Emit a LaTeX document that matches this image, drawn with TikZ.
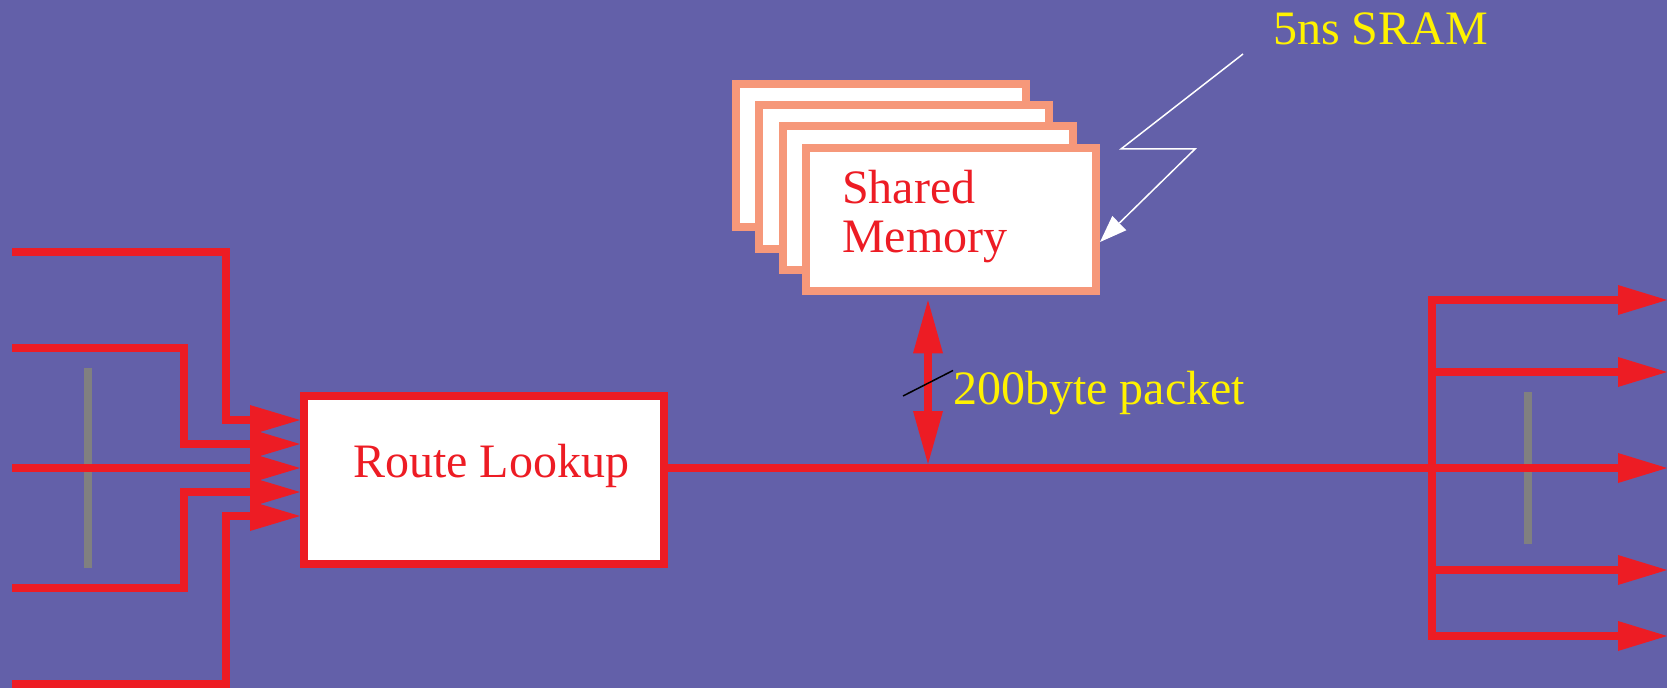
\documentclass[tikz,border=0pt]{standalone}
\usepackage{fontspec}
\setmainfont{Liberation Serif}
\usetikzlibrary{arrows.meta}
\definecolor{bgpurple}{RGB}{99,96,169}
\definecolor{linkred}{RGB}{237,28,36}
\definecolor{memsalmon}{RGB}{246,152,122}
\definecolor{noteyellow}{RGB}{255,242,0}
\definecolor{bargray}{RGB}{128,128,128}
\begin{document}
\begin{tikzpicture}[x=1bp,y=-1bp,
  bigfont/.style={font=\fontsize{48bp}{49bp}\selectfont},
  link/.style={draw=linkred, line width=8bp},
  feed/.style={link, -{Triangle[length=50bp,width=30bp,line width=0pt]}},
  fanout/.style={link, -{Triangle[length=49bp,width=30bp,line width=0pt]}},
  access/.style={link, {Triangle[length=53bp,width=30bp,line width=0pt]}-{Triangle[length=53bp,width=30bp,line width=0pt]}},
  lookupbox/.style={draw=linkred, fill=white, line width=8bp, minimum width=360bp, minimum height=168bp, inner sep=0pt},
  membox/.style={draw=memsalmon, fill=white, line width=8bp, minimum width=290bp, minimum height=143.6bp, inner sep=0pt},
  redtext/.style={bigfont, text=linkred, inner sep=0pt},
  yellowtext/.style={bigfont, text=noteyellow, inner sep=0pt},
  bar/.style={draw=bargray, line width=8bp},
  callout/.style={draw=white, line width=1.5bp, -{Triangle[length=27bp,width=20bp,line width=0pt]}},
  leader/.style={draw=black, line width=1.5bp}
]
% background
\fill[bgpurple] (0,0) rectangle (1667,688);
\useasboundingbox (0,0) rectangle (1667,688);

% port separators
\draw[bar] (88,368) -- (88,568);
\draw[bar] (1528,392) -- (1528,544);

% route lookup engine
\node[lookupbox] (rl) at (484,480) {};
\node[redtext, anchor=base west] (rltext) at (353,477) {Route Lookup};

% shared memory bank stack
\node[membox] (mem1) at (880.8,155.4) {};
\node[membox] (mem2) at (904.2,176.9) {};
\node[membox] (mem3) at (927.7,198.2) {};
\node[membox] (mem4) at (951,219.5) {};
% the base anchor of a two-line node sits on its last line
\node[redtext, anchor=base west, align=left] (memtext) at (842,252) {Shared\\Memory};

% input ports
\coordinate (in1) at (12,252);  \coordinate (k1) at (226,420);
\coordinate (in2) at (12,348);  \coordinate (k2) at (184,444);
\coordinate (in3) at (12,468);
\coordinate (in4) at (12,588);  \coordinate (k4) at (184,492);
\coordinate (in5) at (12,684);  \coordinate (k5) at (226,516);
\draw[feed] (in1) -| (k1) -- (rl.west |- k1);
\draw[feed] (in2) -| (k2) -- (rl.west |- k2);
\draw[feed] (in3) -- (rl.west |- in3);
\draw[feed] (in4) -| (k4) -- (rl.west |- k4);
\draw[feed] (in5) -| (k5) -- (rl.west |- k5);

% output ports
\coordinate (tap) at (928,468);
\coordinate (bus1) at (1432,300);
\coordinate (bus5) at (1432,636);
\coordinate (out1) at (1667,300);
\coordinate (out2) at (1667,372);
\coordinate (out3) at (1667,468);
\coordinate (out4) at (1667,570);
\coordinate (out5) at (1667,636);
\draw[fanout] (rl.east |- tap) -- (out3);
\draw[fanout] (bus5) -- (bus1) -- (out1);
\draw[fanout] (bus1) -- (bus5) -- (out5);
\draw[fanout] (bus1 |- out2) -- (out2);
\draw[fanout] (bus1 |- out4) -- (out4);

% memory access
\draw[access, shorten <=5bp, shorten >=4bp] (mem4.south -| tap) -- (tap);
\node[yellowtext, anchor=base west] (pkt) at (953,404) {200byte packet};
\coordinate (lead0) at (903,396);
\draw[leader] (lead0) -- (pkt.north west);

% memory type callout
\node[yellowtext, anchor=base west] (sram) at (1273,45) {5ns SRAM};
\coordinate (zz0) at (1243,54);
\coordinate (zz1) at (1121,149);
\coordinate (zz2) at (1195,149);
\draw[callout] (zz0) -- (zz1) -- (zz2) -- (mem4.east |- 0,242);
\end{tikzpicture}
\end{document}
